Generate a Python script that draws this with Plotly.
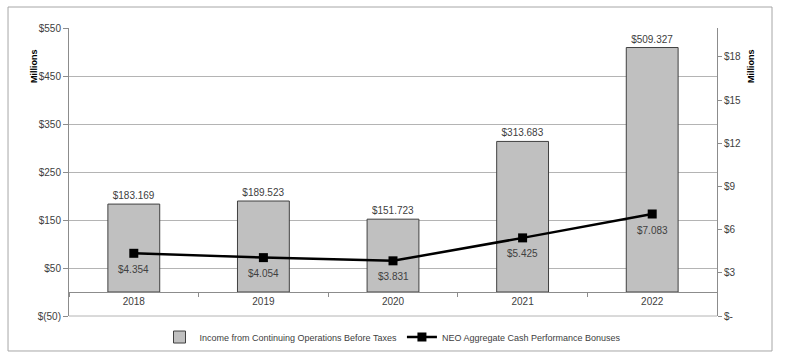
import plotly.graph_objects as go

years = ["2018", "2019", "2020", "2021", "2022"]
income = [183.169, 189.523, 151.723, 313.683, 509.327]
bonuses = [4.354, 4.054, 3.831, 5.425, 7.083]
left_ticks = [-50, 50, 150, 250, 350, 450, 550]
left_labels = ["$(50)", "$50", "$150", "$250", "$350", "$450", "$550"]
right_ticks = [0, 3, 6, 9, 12, 15, 18]
right_labels = ["$-", "$3", "$6", "$9", "$12", "$15", "$18"]

FONT = "Liberation Sans"
TXT = "#404040"
GRID = "#b4b4b4"
AX = "#8c8c8c"

fig = go.Figure()
fig.add_trace(go.Bar(
    x=years, y=income, name="Income from Continuing Operations Before Taxes",
    marker=dict(color="#c0c0c0", line=dict(color="#404040", width=1)),
    width=0.4,
    text=[f"${v:.3f}" for v in income], textposition="outside",
    textfont=dict(size=10, color=TXT, family=FONT), cliponaxis=False,
))
fig.add_trace(go.Scatter(
    x=years, y=bonuses, yaxis="y2", name="NEO Aggregate Cash Performance Bonuses",
    mode="lines+markers",
    line=dict(color="black", width=2.5),
    marker=dict(symbol="square", size=9, color="black"),
    cliponaxis=False,
))
for i, v in enumerate(bonuses):
    fig.add_annotation(x=i, y=v, xref="x", yref="y2", text=f"${v:.3f}",
                       showarrow=False, yshift=-16,
                       font=dict(size=10, color=TXT, family=FONT))

fig.update_layout(
    width=785, height=358,
    margin=dict(l=69, r=68, t=28, b=42, autoexpand=False),
    paper_bgcolor="white", plot_bgcolor="white",
    font=dict(family=FONT, size=10, color=TXT),
    showlegend=True,
    legend=dict(orientation="h", x=0.5, xanchor="center", y=-0.073, yanchor="middle",
                font=dict(size=9, color=TXT, family=FONT), itemwidth=30,
                bgcolor="rgba(0,0,0,0)"),
    xaxis=dict(type="category", anchor="free", position=50/600, automargin=False,
               categoryorder="array", categoryarray=years,
               showline=True, linecolor=AX, linewidth=1,
               ticks="outside", tickson="boundaries", ticklen=4, tickcolor=AX,
               showgrid=False, tickfont=dict(size=10, color=TXT)),
    yaxis=dict(range=[-50, 550], tickvals=left_ticks, ticktext=left_labels, automargin=False,
               showgrid=True, gridcolor=GRID, gridwidth=1,
               zeroline=True, zerolinecolor=AX, zerolinewidth=1,
               showline=True, linecolor=AX, linewidth=1,
               ticks="outside", ticklen=5, tickcolor=AX,
               tickfont=dict(size=10, color=TXT), domain=[0, 1]),
    yaxis2=dict(range=[0, 20], tickvals=right_ticks, ticktext=right_labels, automargin=False,
                overlaying="y", side="right", anchor="x",
                showgrid=False, zeroline=False,
                showline=True, linecolor=AX, linewidth=1,
                ticks="outside", ticklen=4, tickcolor=AX,
                tickfont=dict(size=10, color=TXT)),
    bargap=0.6,
)

# bottom line of plot area and outer border
fig.add_shape(type="line", xref="paper", yref="paper", x0=0, x1=1, y0=0, y1=0,
              line=dict(color=GRID, width=1))
fig.add_shape(type="rect", xref="paper", yref="paper",
              x0=-0.0941, x1=1.0849, y0=-0.1215, y1=1.0729,
              line=dict(color="#a6a6a6", width=1), layer="below")

for xp in (-0.0648, 1.0633):
    fig.add_annotation(text="<b>Millions</b>", xref="paper", yref="paper",
                       x=xp, y=0.934, showarrow=False, textangle=-90,
                       font=dict(size=9, color="black", family=FONT))

fig.write_html("out.html", config={"displayModeBar": False},
               post_script="document.body.style.margin='0';document.body.style.padding='0';")
